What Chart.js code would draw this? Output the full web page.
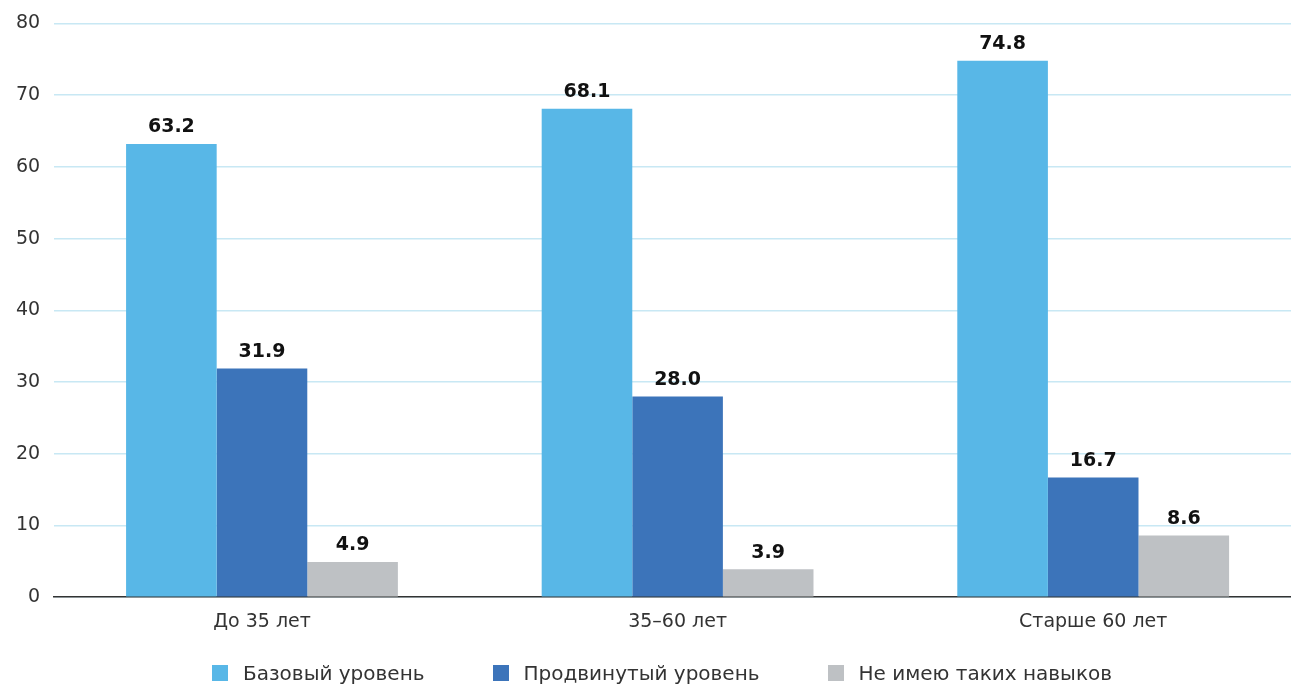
<!DOCTYPE html>
<html>
<head>
<meta charset="utf-8">
<script src="https://cdn.jsdelivr.net/npm/chart.js@4"></script>
<style>
	html, body { margin: 0; padding: 0; background: #fff; overflow: hidden; }
	#wrap { position: relative; width: 1301px; height: 684px; }
	#legend {
		position: absolute; left: 212px; top: 662px;
		display: flex; align-items: center; gap: 68px; line-height: 22px;
		font-family: "DejaVu Sans", sans-serif; font-size: 20px; color: #333;
	}
	#legend .item { display: flex; align-items: center; }
	#legend .box { width: 16px; height: 16px; margin-right: 15px; }
</style>
</head>
<body>
<div id="wrap">
	<canvas id="chart" width="1301" height="684"></canvas>
	<div id="legend"></div>
</div>
<script>
const categories = ["До 35 лет", "35–60 лет", "Старше 60 лет"];
const seriesNames = ["Базовый уровень", "Продвинутый уровень", "Не имею таких навыков"];
const basicLevel = [63.2, 68.1, 74.8];
const advancedLevel = [31.9, 28.0, 16.7];
const noSkills = [4.9, 3.9, 8.6];
const colors = ["#58B7E7", "#3C74BA", "#BEC1C4"];
const textColor = "#333";

const fontFamily = "'DejaVu Sans', sans-serif";

// values printed above each bar
const barLabels = {
	id: "barLabels",
	afterDatasetsDraw(chart) {
		const ctx = chart.ctx;
		ctx.save();
		ctx.font = `bold 19px ${fontFamily}`;
		ctx.fillStyle = "#111";
		ctx.textAlign = "center";
		ctx.textBaseline = "bottom";
		chart.data.datasets.forEach((ds, i) => {
			chart.getDatasetMeta(i).data.forEach((bar, j) => {
				ctx.fillText(ds.data[j].toFixed(1), bar.x, bar.y - 7);
			});
		});
		ctx.restore();
	},
};

const datasets = [basicLevel, advancedLevel, noSkills].map((values, i) => ({
	label: seriesNames[i],
	data: values,
	backgroundColor: colors[i],
	borderWidth: 0,
	barPercentage: 1,
	categoryPercentage: 0.654,
}));

new Chart(document.getElementById("chart"), {
	type: "bar",
	data: { labels: categories, datasets: datasets },
	plugins: [barLabels],
	options: {
		responsive: false,
		animation: false,
		layout: { padding: { top: 23, bottom: 46, left: 2, right: 0 } },
		plugins: {
			legend: { display: false },
			tooltip: { enabled: false },
		},
		scales: {
			x: {
				grid: { display: false },
				border: { display: true, color: "#333", width: 1.5 },
				ticks: { color: textColor, font: { family: fontFamily, size: 19 }, padding: 5 },
			},
			y: {
				min: 0,
				max: 80,
				ticks: { stepSize: 10, color: textColor, font: { family: fontFamily, size: 19, lineHeight: 1 }, padding: 14 },
				grid: { color: "#C8E8F4", lineWidth: 1.5, drawTicks: false },
				border: { display: false },
			},
		},
	},
});

document.getElementById("legend").innerHTML = seriesNames
	.map((name, i) => `<div class="item"><div class="box" style="background:${colors[i]}"></div>${name}</div>`)
	.join("");
</script>
</body>
</html>
